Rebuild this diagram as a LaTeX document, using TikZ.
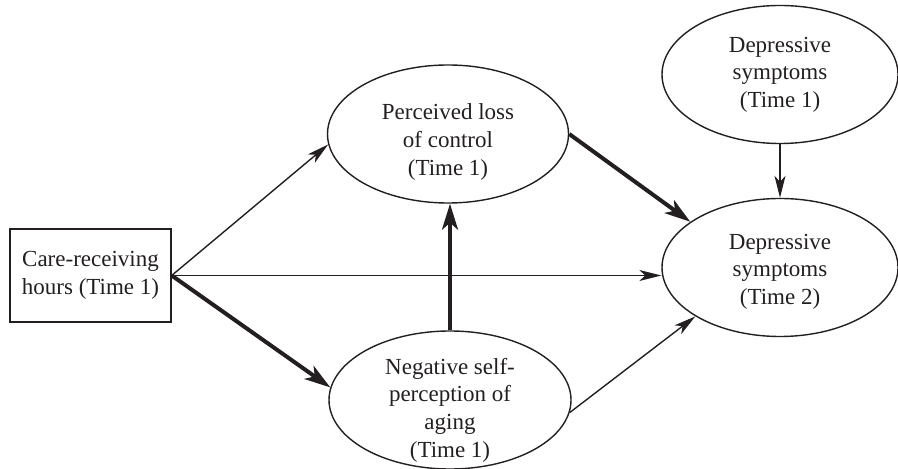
\documentclass[tikz,border=0pt]{standalone}
\usepackage{fontspec}
\setmainfont{Liberation Serif}
\usetikzlibrary{arrows.meta,shapes.geometric}
\definecolor{ink}{HTML}{231F20}

\begin{document}
\begin{tikzpicture}[x=0.5pt,y=-0.5pt,
    oval/.style={draw=ink,ellipse,line width=0.7pt,inner sep=0pt,minimum height=69pt,minimum width=#1},
    txt/.style={align=center,text=ink,font=\fontsize{11.5}{13.8}\selectfont},
    arr/.style={draw=ink,line width=0.7pt,-{Stealth[length=11pt,width=5.5pt,inset=3pt]}},
    boldarr/.style={draw=ink,line width=2pt,-{Stealth[length=13pt,width=8pt,inset=3.5pt]}}]
        \useasboundingbox (0,0) rectangle (898,469);
        % 方框
        \node[draw=ink,line width=0.7pt,minimum width=80.5pt,minimum height=46.5pt,inner sep=0pt,txt] (care) at (90.5,275.5) {Care-receiving\\hours (Time 1)};
        % 椭圆
        \node[oval=120.5pt] (plc) at (448,134) {};
        \node[txt] (plc-t) at ([yshift=-4pt]plc.center) {Perceived loss\\of control\\(Time 1)};
        \node[oval=121pt] (nspa) at (450,400) {};
        \node[txt] (nspa-t) at ([yshift=-5pt]nspa.center) {Negative self-\\perception of\\aging\\(Time 1)};
        \node[oval=118pt] (dsa) at (780,74.5) {};
        \node[txt] (dsa-t) at (dsa.center) {Depressive\\symptoms\\(Time 1)};
        \node[oval=118pt] (dsb) at (780,267.5) {};
        \node[txt] (dsb-t) at ([yshift=-2pt]dsb.center) {Depressive\\symptoms\\(Time 2)};
        % 细箭头
        \draw[arr] (care.east) -- (plc.185);
        \draw[arr] (care.east) -- (care.east -| dsb.west);
        \draw[arr] (nspa.354) -- (dsb.210);
        \draw[arr] (dsa.south) -- (dsb.north);
        % 粗箭头
        \draw[boldarr] (care.east) -- (nspa.174);
        \draw[boldarr] (nspa.north) -- (nspa.north |- plc.south);
        \draw[boldarr] (plc.east) -- (dsb.153);
\end{tikzpicture}
\end{document}
